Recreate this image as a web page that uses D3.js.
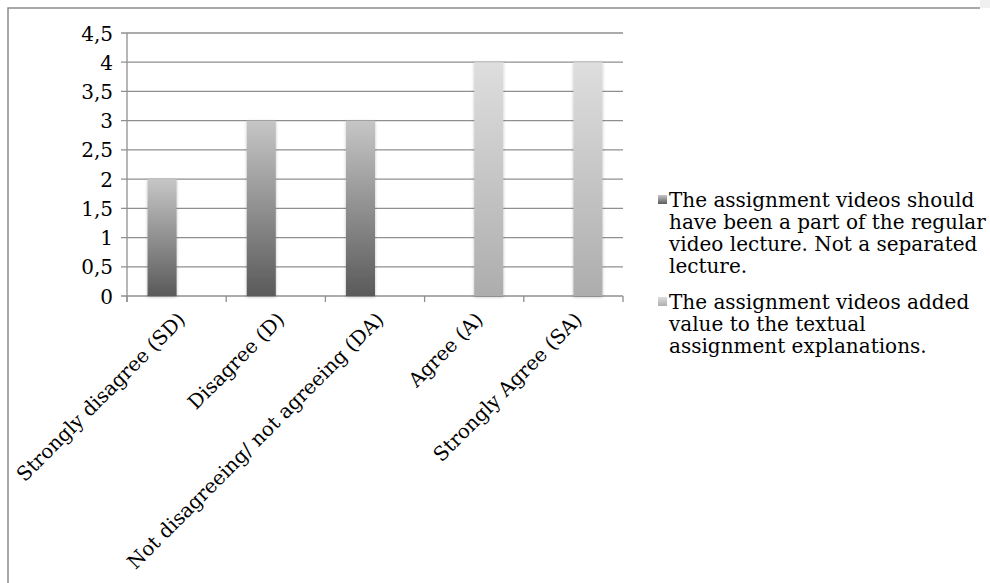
<!DOCTYPE html>
<html><head><meta charset="utf-8">
<script src="https://cdn.jsdelivr.net/npm/d3@7/dist/d3.min.js"></script>
<style>html,body{margin:0;padding:0;background:#fff;}svg{display:block;}</style>
</head><body>
<script>
const categories = ["Strongly disagree (SD)", "Disagree (D)", "Not disagreeing/ not agreeing (DA)", "Agree (A)", "Strongly Agree (SA)"];
const seriesNames = [
  ["The assignment videos should", "have been a part of the regular", "video lecture. Not a separated", "lecture."],
  ["The assignment videos added", "value to the textual", "assignment explanations."]
];
const series1 = [2, 3, 3, 0, 0];
const series2 = [0, 0, 0, 4, 4];
const yTicks = [0, 0.5, 1, 1.5, 2, 2.5, 3, 3.5, 4, 4.5];

const W = 990, H = 583;
const FONT = "'DejaVu Serif', serif";
const svg = d3.select("body").append("svg").attr("width", W).attr("height", H);
const defs = svg.append("defs");

function grad(id, top, bottom) {
  const g = defs.append("linearGradient").attr("id", id).attr("x1", 0).attr("y1", 0).attr("x2", 0).attr("y2", 1);
  g.append("stop").attr("offset", "0%").attr("stop-color", top);
  g.append("stop").attr("offset", "100%").attr("stop-color", bottom);
}
grad("g0", "#c6c6c6", "#5a5a5a");
grad("g1", "#dedede", "#adadad");
const f = defs.append("filter").attr("id", "sh").attr("x", "-30%").attr("y", "-10%").attr("width", "160%").attr("height", "120%");
f.append("feDropShadow").attr("dx", 0).attr("dy", 1).attr("stdDeviation", 1.5).attr("flood-color", "#000").attr("flood-opacity", 0.25);

// background / frame
svg.append("rect").attr("x", 980).attr("y", 0).attr("width", 10).attr("height", 8).attr("fill", "#f0f0f0");
svg.append("path").attr("d", "M8,583 L8,8 L980,8").attr("fill", "none").attr("stroke", "#8c8c8c").attr("stroke-width", 1.5);

const x = d3.scaleBand().domain(categories).range([127, 623]).paddingInner(0).paddingOuter(0);
const x1 = d3.scaleBand().domain([0, 1]).range([0, x.bandwidth()]).paddingInner(0).paddingOuter(0.707);
const y = d3.scaleLinear().domain([0, 4.5]).range([296, 33]);

// gridlines
svg.append("g").selectAll("line").data(yTicks).join("line")
  .attr("x1", 121).attr("x2", 623).attr("y1", d => y(d)).attr("y2", d => y(d))
  .attr("stroke", "#8f8f8f").attr("stroke-width", 1.3);
// y axis line
svg.append("line").attr("x1", 127).attr("x2", 127).attr("y1", y(4.5)).attr("y2", 302).attr("stroke", "#8f8f8f").attr("stroke-width", 1.3);
// x ticks
const bounds = categories.map(c => x(c)).concat([x.range()[1]]);
svg.append("g").selectAll("line").data(bounds).join("line")
  .attr("x1", d => d).attr("x2", d => d).attr("y1", 296).attr("y2", 302)
  .attr("stroke", "#8f8f8f").attr("stroke-width", 1.3);

// y labels
svg.append("g").selectAll("text").data(yTicks).join("text")
  .attr("x", 113).attr("y", d => y(d)).attr("dy", "0.38em").attr("text-anchor", "end")
  .attr("font-family", FONT).attr("font-size", 20).attr("fill", "#000")
  .text(d => String(d).replace(".", ","));

// bars
const seriesVals = [series1, series2];
seriesVals.forEach((vals, si) => {
  svg.append("g").selectAll("rect").data(categories.map((c, i) => ({c, v: vals[i]})).filter(d => d.v > 0)).join("rect")
    .attr("x", d => x(d.c) + x1(si)).attr("width", x1.bandwidth())
    .attr("y", d => y(d.v)).attr("height", d => y(0) - y(d.v))
    .attr("fill", `url(#g${si})`).attr("filter", "url(#sh)");
});

// x labels
svg.append("g").selectAll("text").data(categories).join("text")
  .attr("transform", d => `translate(${x(d) + x.bandwidth() / 2 + 5},${316}) rotate(-45)`)
  .attr("text-anchor", "end").attr("dy", "0.35em")
  .attr("font-family", FONT).attr("font-size", 19.7).attr("fill", "#000")
  .text(d => d);

// legend
const lg = svg.append("g");
const legendTop = [200, 302];
seriesNames.forEach((lines, si) => {
  lg.append("rect").attr("x", 658).attr("y", legendTop[si] - 5).attr("width", 9).attr("height", 9).attr("fill", `url(#g${si})`);
  const t = lg.append("text").attr("font-family", FONT).attr("font-size", 20).attr("fill", "#000");
  lines.forEach((ln, li) => {
    t.append("tspan").attr("x", 669).attr("y", legendTop[si] + li * 22).attr("dy", "0.35em").text(ln);
  });
});
</script>
</body></html>
